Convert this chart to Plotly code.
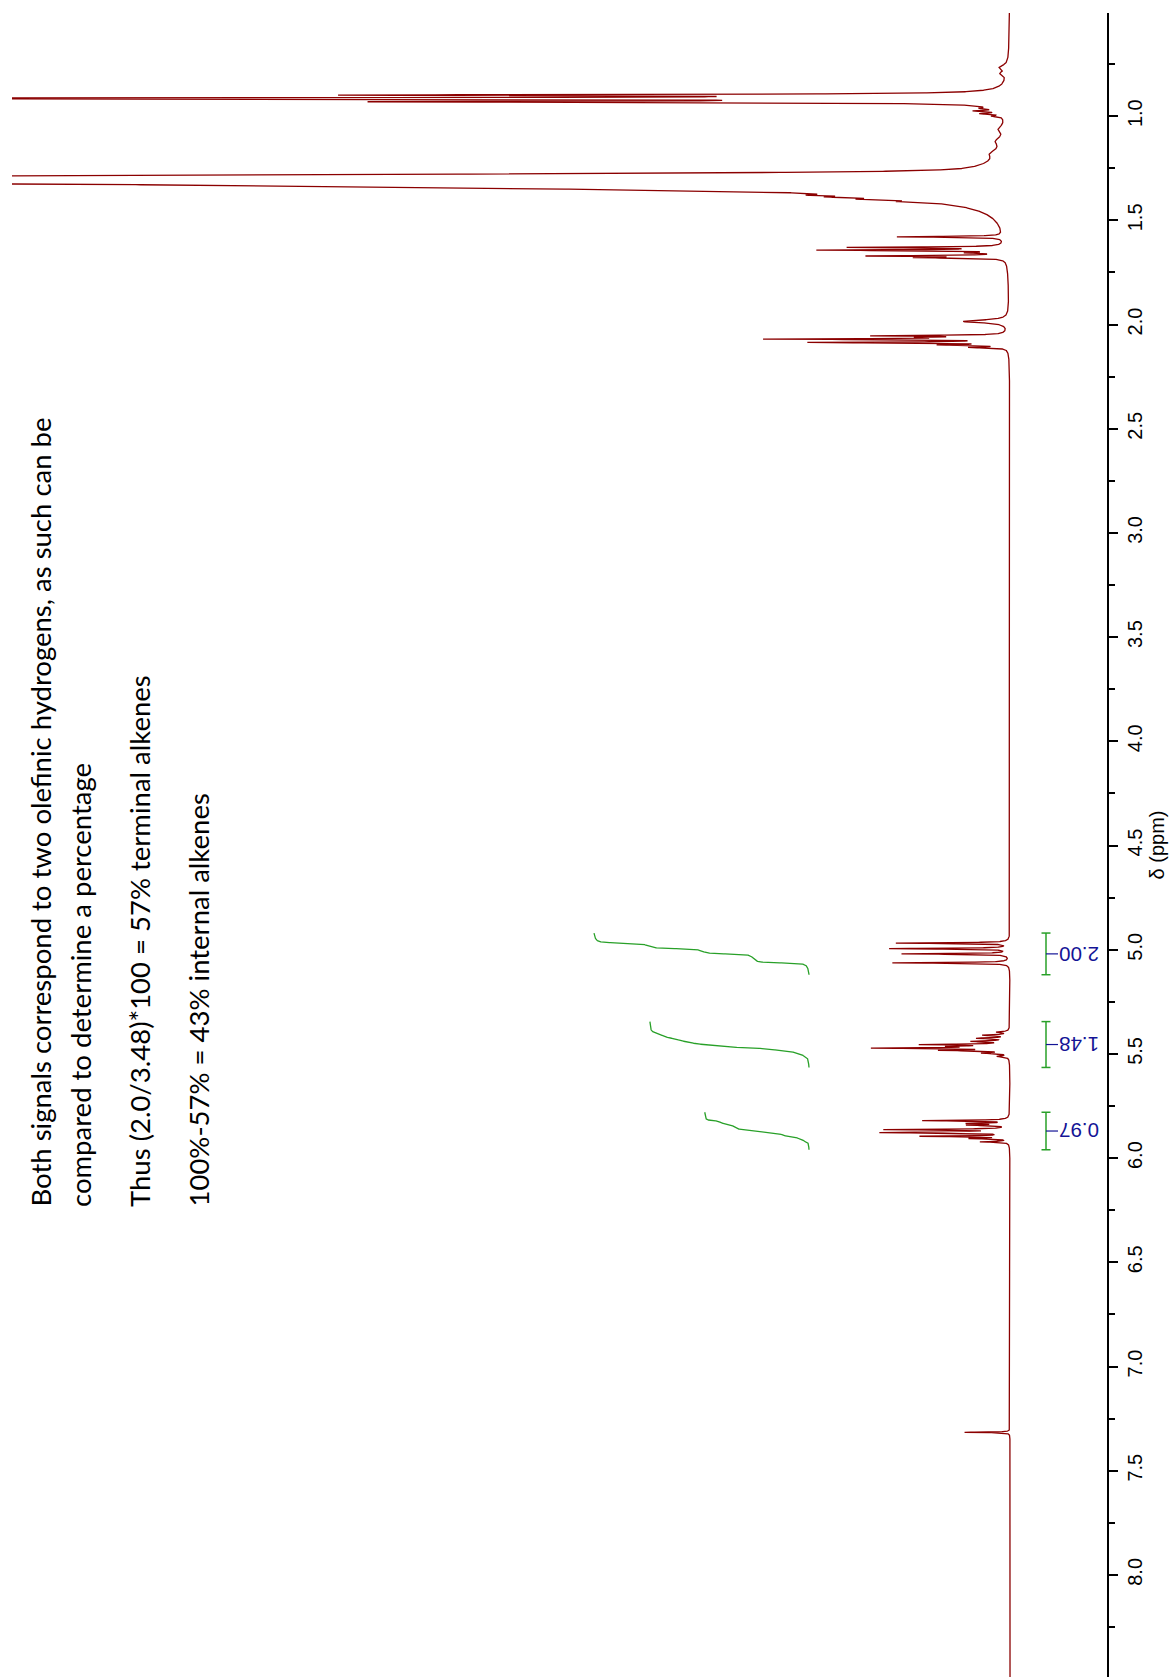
import numpy as np
import plotly.graph_objects as go

# ---- 1H NMR peak list (Lorentzian lines) -------------------------------
# position (ppm), height (% of full scale), half width at half maximum (ppm)
line_ppm = [
    0.765, 0.795,
    0.899, 0.915, 0.931,
    0.962, 0.975, 0.988, 1.000,
    1.06, 1.12, 1.18,
    1.29, 1.375,
    1.379, 1.388, 1.398, 1.410,
    1.579, 1.630, 1.643, 1.656, 1.671, 1.679,
    1.985,
    2.054, 2.062, 2.070, 2.086, 2.098, 2.110,
    4.968, 4.995, 5.020, 5.063,
    5.395, 5.410, 5.425, 5.440, 5.455, 5.464, 5.472, 5.483, 5.496, 5.512,
    5.820, 5.834, 5.842, 5.863, 5.874, 5.878, 5.895, 5.906, 5.922,
    7.316,
]
line_height = [
    0.8, 0.6,
    60, 132, 57,
    1.2, 2.4, 2.0, 1.0,
    0.6, 0.7, 0.8,
    8, 14,
    3.5, 4.0, 3.5, 2.5,
    10.5, 15, 18, 3, 13, 8,
    4.5,
    12.5, 6, 23, 19, 6, 3.5,
    11.2, 11.8, 10.6, 11.6,
    1.2, 2.5, 3.0, 3.4, 8.2, 4.5, 12.8, 6.2, 2.4, 1.1,
    8.5, 3.8, 3.8, 12.0, 4.2, 11.5, 8.5, 3.6, 2.8,
    4.5,
]
line_hwhm = [
    0.012, 0.010,
    0.0034, 0.0034, 0.0034,
    0.003, 0.003, 0.003, 0.003,
    0.015, 0.02, 0.02,
    0.03, 0.04,
    0.003, 0.003, 0.003, 0.003,
    0.0025, 0.0025, 0.0025, 0.0025, 0.0025, 0.0025,
    0.008,
    0.0025, 0.0025, 0.0025, 0.0025, 0.0025, 0.0025,
    0.0022, 0.0022, 0.0022, 0.0022,
    0.003, 0.003, 0.003, 0.003, 0.0025, 0.0025, 0.0025, 0.0025, 0.003, 0.003,
    0.0022, 0.0022, 0.0022, 0.0022, 0.0022, 0.0022, 0.0022, 0.0022, 0.0022,
    0.0015,
]

# Gaussian envelope of the overlapping methylene signals near 1.3 ppm
env_ppm = [1.300, 1.330]
env_height = [150, 60]
env_sigma = [0.014, 0.018]

# integration regions (ppm) and their integrals
integral_start = [4.92, 5.345, 5.78]
integral_end = [5.12, 5.565, 5.96]
integral_value = [2.00, 1.48, 0.97]

notes = [
    "Both signals correspond to two olefinic hydrogens, as such can be",
    "compared to determine a percentage",
    "Thus (2.0/3.48)*100 = 57% terminal alkenes",
    "100%-57% = 43% internal alkenes",
]

# ---- build the spectrum ------------------------------------------------
ppm = np.linspace(0.50, 8.50, 40001)
spec = np.zeros_like(ppm)
for p, h, w in zip(line_ppm, line_height, line_hwhm):
    spec += h * w**2 / ((ppm - p) ** 2 + w**2)
for p, h, s in zip(env_ppm, env_height, env_sigma):
    spec += h * np.exp(-((ppm - p) ** 2) / (2 * s**2))

SPEC_RED = "rgb(139,0,0)"
INT_GREEN = "rgb(40,160,40)"
INT_BLUE = "rgb(20,20,150)"

fig = go.Figure()
fig.add_trace(go.Scatter(
    x=spec, y=ppm, mode="lines",
    line=dict(color=SPEC_RED, width=1.3),
    hoverinfo="skip", showlegend=False,
))

# integral curves: running integral from the high-field end of each region
for a, b, val in zip(integral_start, integral_end, integral_value):
    m = (ppm >= a) & (ppm <= b)
    seg = spec[m]
    cum = np.cumsum(seg[::-1])[::-1]
    cum = cum / cum[0] * val
    fig.add_trace(go.Scatter(
        x=cum, y=ppm[m], mode="lines", xaxis="x2",
        line=dict(color=INT_GREEN, width=1.3),
        hoverinfo="skip", showlegend=False,
    ))

# layout geometry (pixels)
W, H = 1172, 1677
ML, MR, MT, MB = 12, 65, 13, 0
PW, PH = W - ML - MR, H - MT - MB


def px_x(px):
    return (px - ML) / PW


def px_y(py):
    return (H - MB - py) / PH


shapes = []
annotations = []
xb = px_x(1046)
cap = 4.5 / PW
for a, b, val in zip(integral_start, integral_end, integral_value):
    shapes.append(dict(type="line", xref="paper", yref="y", x0=xb, x1=xb, y0=a, y1=b,
                       line=dict(color=INT_GREEN, width=1.5)))
    for yy in (a, b):
        shapes.append(dict(type="line", xref="paper", yref="y", x0=xb - cap, x1=xb + cap,
                           y0=yy, y1=yy, line=dict(color=INT_GREEN, width=1.5)))
    mid = (a + b) / 2
    shapes.append(dict(type="line", xref="paper", yref="y", x0=xb, x1=px_x(1058),
                       y0=mid, y1=mid, line=dict(color=INT_BLUE, width=1.2)))
    annotations.append(dict(
        text=f"{val:.2f}", xref="paper", yref="y", x=px_x(1057), y=mid,
        xanchor="left", yanchor="middle", textangle=180, showarrow=False,
        font=dict(family="Liberation Sans Narrow, Liberation Sans, Arial", size=20.5, color=INT_BLUE),
    ))

note_x = [40, 80, 139, 198]
for txt, xc in zip(notes, note_x):
    annotations.append(dict(
        text=txt, xref="paper", yref="paper", x=px_x(xc), y=px_y(1209),
        xanchor="center", yanchor="bottom", textangle=-90, showarrow=False,
        font=dict(family="Lato, Carlito, Open Sans", size=27.5, color="black"),
    ))

axis_font = dict(family="Liberation Sans Narrow, Liberation Sans, Arial", size=20, color="black")

fig.update_layout(
    width=W, height=H,
    margin=dict(l=ML, r=MR, t=MT, b=MB),
    paper_bgcolor="white", plot_bgcolor="white",
    xaxis=dict(range=[98.8, -9.6], visible=False, fixedrange=True),
    xaxis2=dict(range=[7.414, -2.772], overlaying="x", visible=False),
    yaxis=dict(
        range=[8.49, 0.505], side="right", showline=True, linecolor="black", linewidth=1.5,
        ticks="outside", ticklen=9, tickwidth=1.5, tickcolor="black",
        tickmode="linear", tick0=0, dtick=0.5, tickformat=".1f",
        tickangle=-90, tickfont=axis_font,
        minor=dict(dtick=0.25, tick0=0, ticks="outside", ticklen=6, tickwidth=1.5, tickcolor="black"),
        title=dict(text="δ (ppm)", font=axis_font, standoff=0),
        showgrid=False, zeroline=False, automargin=False,
    ),
    shapes=shapes,
    annotations=annotations,
)

fig.write_html("out.html")
